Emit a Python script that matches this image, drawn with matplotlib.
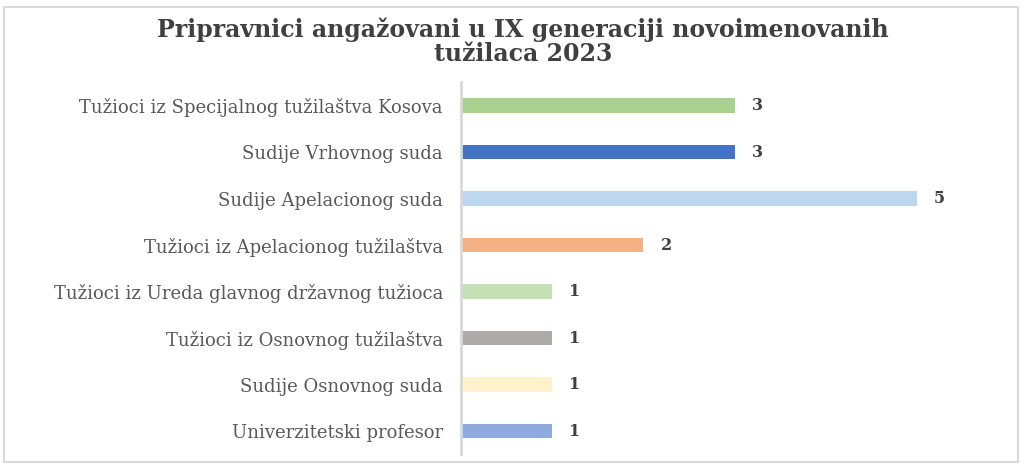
import matplotlib.pyplot as plt
from matplotlib.patches import Rectangle

categories = [
    'Tužioci iz Specijalnog tužilaštva Kosova',
    'Sudije Vrhovnog suda',
    'Sudije Apelacionog suda',
    'Tužioci iz Apelacionog tužilaštva',
    'Tužioci iz Ureda glavnog državnog tužioca',
    'Tužioci iz Osnovnog tužilaštva',
    'Sudije Osnovnog suda',
    'Univerzitetski profesor',
]
values = [3, 3, 5, 2, 1, 1, 1, 1]
colors = ['#a9d18e', '#4472c4', '#bdd7ee', '#f4b183',
          '#c5e0b4', '#aeaaaa', '#fff2cc', '#8faadc']

plt.rcParams['font.family'] = ['DejaVu Serif', 'Liberation Serif']

fig = plt.figure(figsize=(10.24, 4.65), dpi=100)
fig.patches.append(Rectangle((4/1024, 3/465), 1014/1024, 455/465, transform=fig.transFigure,
                             fill=False, edgecolor='#d9d9d9', linewidth=1.5))
ax = fig.add_axes([461/1024, 0.023, 547/1024, 0.80])

y = list(range(len(categories)))[::-1]
ax.barh(y, values, height=0.32, color=colors)
for yi, v in zip(y, values):
    ax.text(v + 0.25, yi, str(v), va='center', ha='center', fontsize=11.5,
            fontweight='bold', color='#404040')

ax.set_yticks(y)
ax.set_yticklabels(categories, fontsize=13, color='#595959')
ax.tick_params(axis='y', length=0, pad=13)
ax.set_xlim(0, 6)
ax.set_ylim(-0.5, 7.5)
ax.set_xticks([])
for s in ['top', 'right', 'bottom']:
    ax.spines[s].set_visible(False)
ax.spines['left'].set_color('#d9d9d9')
ax.spines['left'].set_linewidth(2)

fig.text(0.511, 0.91, 'Pripravnici angažovani u IX generaciji novoimenovanih\ntužilaca 2023',
         ha='center', va='center', fontsize=17, fontweight='bold', color='#404040',
         linespacing=1.0)

fig.savefig('out.png', dpi=100)
